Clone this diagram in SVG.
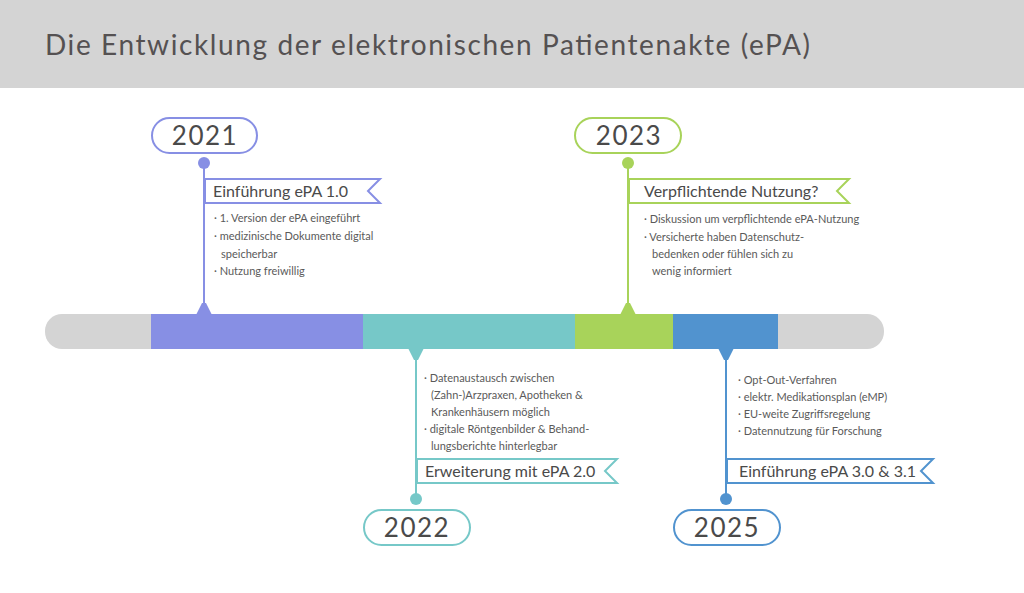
<svg xmlns="http://www.w3.org/2000/svg" width="1024" height="593" viewBox="0 0 1024 593">
<style>
.title{font-family:Lato,"Open Sans",sans-serif;font-size:28px;fill:#555152;}
.year{font-family:Lato,"Open Sans",sans-serif;font-size:26px;fill:#4a4a4a;text-anchor:middle;letter-spacing:1.5px;}
.flagt{font-family:Lato,"Open Sans",sans-serif;font-size:16px;fill:#4a4a4a;}
.bul{font-family:Lato,"Open Sans",sans-serif;font-size:11px;fill:#5a5a5a;}
.pill{fill:#fff;stroke-width:2;}
.flag{fill:#fff;stroke-width:2;}
.purple{stroke:#878fe4;}
.teal{stroke:#76c8c8;}
.green{stroke:#a8d35a;}
.blue{stroke:#5193cf;}
</style>
<rect width="1024" height="593" fill="#fff"/>
<rect x="0" y="0" width="1024" height="88" fill="#d4d4d4"/>
<text class="title" x="45" y="55" textLength="765" lengthAdjust="spacing">Die Entwicklung der elektronischen Patientenakte (ePA)</text>

<g id="timeline">
<rect x="45" y="314" width="839" height="35" rx="17" fill="#d4d4d4"/>
<rect x="151" y="314" width="212" height="35" fill="#878fe4"/>
<rect x="363" y="314" width="212" height="35" fill="#76c8c8"/>
<rect x="575" y="314" width="98" height="35" fill="#a8d35a"/>
<rect x="673" y="314" width="105" height="35" fill="#5193cf"/>
</g>

<g id="connectors" stroke-width="2" fill="none">
<line x1="204" y1="163" x2="204" y2="314" class="purple"/>
<line x1="628" y1="163" x2="628" y2="314" class="green"/>
<line x1="416" y1="349" x2="416" y2="499" class="teal"/>
<line x1="726" y1="349" x2="726" y2="499" class="blue"/>
<path d="M196 315 L202 303 L206 303 L212 315 Z" fill="#878fe4" stroke="none"/>
<path d="M620 315 L626 303 L630 303 L636 315 Z" fill="#a8d35a" stroke="none"/>
<path d="M408 348 L414 360 L418 360 L424 348 Z" fill="#76c8c8" stroke="none"/>
<path d="M718 348 L724 360 L728 360 L734 348 Z" fill="#5193cf" stroke="none"/>
<circle cx="204" cy="163" r="6" fill="#878fe4" stroke="none"/>
<circle cx="628" cy="163" r="6" fill="#a8d35a" stroke="none"/>
<circle cx="416" cy="499" r="6" fill="#76c8c8" stroke="none"/>
<circle cx="726" cy="499" r="6" fill="#5193cf" stroke="none"/>
</g>

<g id="node-2021">
<rect class="pill purple" x="152" y="118" width="105" height="35" rx="17.5"/>
<text class="year" x="205" y="145">2021</text>
<path class="flag purple" d="M205 179 H380 L368 191 L380 203 H205 Z"/>
<text class="flagt" x="213" y="197">Einführung ePA 1.0</text>
<text class="bul" x="214" y="222">· 1. Version der ePA eingeführt</text>
<text class="bul" x="214" y="240">· medizinische Dokumente digital</text>
<text class="bul" x="221" y="258">speicherbar</text>
<text class="bul" x="214" y="275">· Nutzung freiwillig</text>
</g>

<g id="node-2023">
<rect class="pill green" x="575" y="118" width="106" height="35" rx="17.5"/>
<text class="year" x="629" y="145">2023</text>
<path class="flag green" d="M629 179 H849 L837 191 L849 203 H629 Z"/>
<text class="flagt" x="644" y="197">Verpflichtende Nutzung?</text>
<text class="bul" x="644" y="223">· Diskussion um verpflichtende ePA-Nutzung</text>
<text class="bul" x="644" y="241">· Versicherte haben Datenschutz-</text>
<text class="bul" x="652" y="258">bedenken oder fühlen sich zu</text>
<text class="bul" x="652" y="275">wenig informiert</text>
</g>

<g id="node-2022">
<rect class="pill teal" x="364" y="510" width="106" height="35" rx="17.5"/>
<text class="year" x="417" y="537">2022</text>
<path class="flag teal" d="M417 459 H617 L605 471 L617 483 H417 Z"/>
<text class="flagt" x="425" y="477">Erweiterung mit ePA 2.0</text>
<text class="bul" x="424" y="382">· Datenaustausch zwischen</text>
<text class="bul" x="431" y="399">(Zahn-)Arzpraxen, Apotheken &amp;</text>
<text class="bul" x="431" y="416">Krankenhäusern möglich</text>
<text class="bul" x="424" y="433">· digitale Röntgenbilder &amp; Behand-</text>
<text class="bul" x="431" y="450">lungsberichte hinterlegbar</text>
</g>

<g id="node-2025">
<rect class="pill blue" x="674" y="510" width="106" height="35" rx="17.5"/>
<text class="year" x="727" y="537">2025</text>
<path class="flag blue" d="M727 459 H933 L921 471 L933 483 H727 Z"/>
<text class="flagt" x="739" y="477">Einführung ePA 3.0 &amp; 3.1</text>
<text class="bul" x="738" y="384">· Opt-Out-Verfahren</text>
<text class="bul" x="738" y="401">· elektr. Medikationsplan (eMP)</text>
<text class="bul" x="738" y="418">· EU-weite Zugriffsregelung</text>
<text class="bul" x="738" y="435">· Datennutzung für Forschung</text>
</g>
</svg>
